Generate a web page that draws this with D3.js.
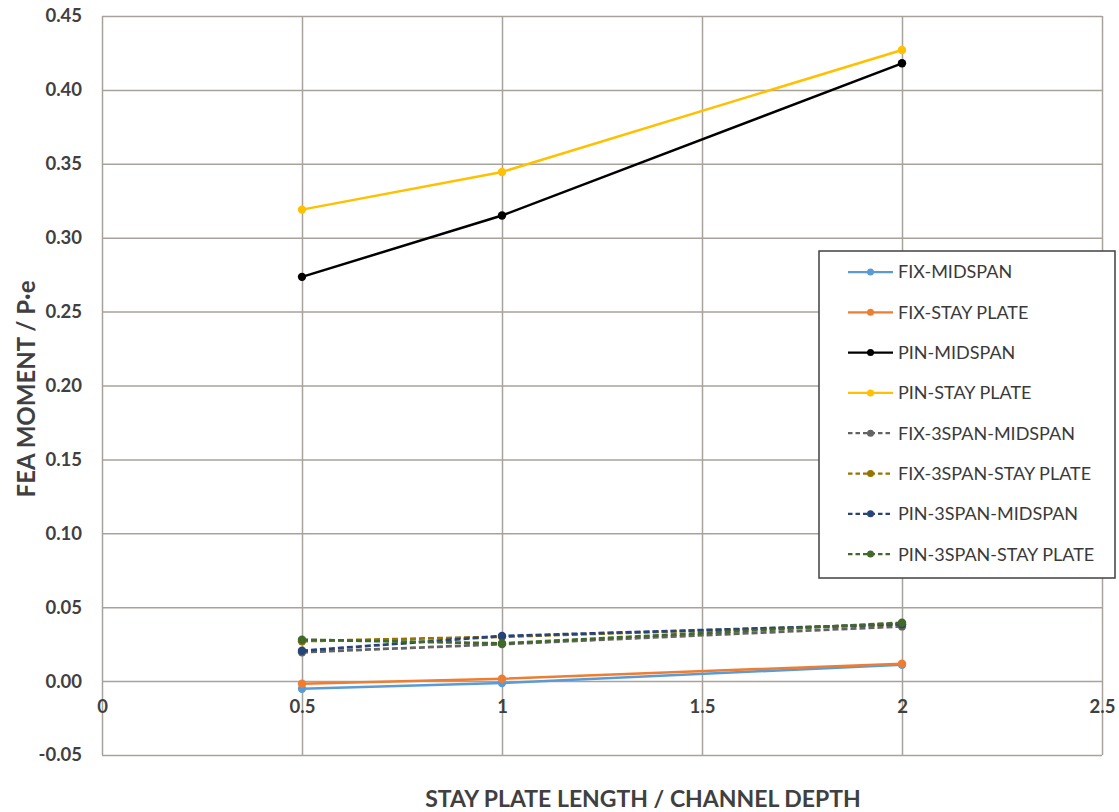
<!DOCTYPE html>
<html>
<head>
<meta charset="utf-8">
<script src="https://cdn.jsdelivr.net/npm/d3@7/dist/d3.min.js"></script>
<style>
  html, body { margin: 0; padding: 0; background: #ffffff; }
  svg { display: block; font-family: Lato, "Open Sans", sans-serif; }
</style>
</head>
<body>
<svg id="chart" width="1119" height="812"></svg>
<script>
// Ratio of stay plate length to channel depth (x values shared by all series)
const ratios = [0.5, 1, 2];

// FEA moment normalised by P·e, one array per series
const fixMidspan        = [-0.0052, -0.0013, 0.0110];
const fixStayPlate      = [-0.0018,  0.0016, 0.0118];
const pinMidspan        = [ 0.2735,  0.3150, 0.4180];
const pinStayPlate      = [ 0.3190,  0.3445, 0.4270];
const fix3SpanMidspan   = [ 0.0195,  0.0250, 0.0370];
const fix3SpanStayPlate = [ 0.0270,  0.0300, 0.0385];
const pin3SpanMidspan   = [ 0.0205,  0.0305, 0.0385];
const pin3SpanStayPlate = [ 0.0280,  0.0255, 0.0395];

const seriesNames = [
  "FIX-MIDSPAN", "FIX-STAY PLATE", "PIN-MIDSPAN", "PIN-STAY PLATE",
  "FIX-3SPAN-MIDSPAN", "FIX-3SPAN-STAY PLATE", "PIN-3SPAN-MIDSPAN", "PIN-3SPAN-STAY PLATE"
];
const seriesValues = [
  fixMidspan, fixStayPlate, pinMidspan, pinStayPlate,
  fix3SpanMidspan, fix3SpanStayPlate, pin3SpanMidspan, pin3SpanStayPlate
];
const seriesColors = [
  "#5b9bd5", "#ed7d31", "#000000", "#ffc000",
  "#636363", "#997300", "#264478", "#43682b"
];
const seriesDashed = [false, false, false, false, true, true, true, true];

// Axis ticks and labels
const xTicks = [0, 0.5, 1, 1.5, 2, 2.5];
const xTickLabels = ["0", "0.5", "1", "1.5", "2", "2.5"];
const yTicks = [-0.05, 0, 0.05, 0.10, 0.15, 0.20, 0.25, 0.30, 0.35, 0.40, 0.45];
const xTitle = "STAY PLATE LENGTH / CHANNEL DEPTH";
const yTitle = "FEA MOMENT / P\u00B7e";

const svg = d3.select("#chart");
const plot = { left: 102, right: 1102, top: 16, bottom: 755 };
const textColor = "#404040";
const gridColor = "#a8a29c";

const x = d3.scaleLinear().domain([0, 2.5]).range([plot.left, plot.right]);
const y = d3.scaleLinear().domain([-0.05, 0.45]).range([plot.bottom, plot.top]);

// Gridlines
svg.append("g")
  .attr("transform", `translate(${plot.left},0)`)
  .call(d3.axisLeft(y).tickValues(yTicks).tickSize(-(plot.right - plot.left)).tickFormat(""))
  .call(g => g.select(".domain").remove())
  .call(g => g.selectAll("line").attr("stroke", gridColor).attr("stroke-width", 1.5));

svg.append("g")
  .attr("transform", `translate(0,${plot.bottom})`)
  .call(d3.axisBottom(x).tickValues(xTicks).tickSize(-(plot.bottom - plot.top)).tickFormat(""))
  .call(g => g.select(".domain").remove())
  .call(g => g.selectAll("line").attr("stroke", gridColor).attr("stroke-width", 1.5));

// Y tick labels
svg.append("g")
  .attr("transform", `translate(${plot.left},0)`)
  .call(d3.axisLeft(y).tickValues(yTicks).tickSize(0).tickPadding(20).tickFormat(d => d.toFixed(2)))
  .call(g => g.select(".domain").remove())
  .call(g => g.selectAll("text")
    .attr("fill", textColor).attr("font-size", 18.5).attr("font-weight", 700)
    .attr("font-family", "Lato, sans-serif"));

// X tick labels sit just under the zero line
svg.append("g")
  .attr("transform", `translate(0,${y(0)})`)
  .call(d3.axisBottom(x).tickValues(xTicks).tickSize(0).tickPadding(19)
    .tickFormat((d, i) => xTickLabels[i]))
  .call(g => g.select(".domain").remove())
  .call(g => g.selectAll("text")
    .attr("fill", textColor).attr("font-size", 18.5).attr("font-weight", 700)
    .attr("font-family", "Lato, sans-serif"));

// Axis titles
svg.append("text")
  .attr("x", 643).attr("y", 807)
  .attr("text-anchor", "middle")
  .attr("fill", textColor).attr("font-size", 23).attr("font-weight", 700)
  .text(xTitle);

svg.append("text")
  .attr("transform", `translate(35,${389}) rotate(-90)`)
  .attr("text-anchor", "middle")
  .attr("fill", textColor).attr("font-size", 24).attr("font-weight", 700)
  .text(yTitle);

// Series lines and markers
const line = d3.line().x(d => x(d[0])).y(d => y(d[1]));
seriesValues.forEach((vals, i) => {
  const pts = ratios.map((r, j) => [r, vals[j]]);
  const g = svg.append("g").attr("class", "series");
  g.append("path")
    .datum(pts)
    .attr("d", line)
    .attr("fill", "none")
    .attr("stroke", seriesColors[i])
    .attr("stroke-width", seriesDashed[i] ? 2.75 : 2.5)
    .attr("stroke-dasharray", seriesDashed[i] ? "6,3" : null)
    .attr("stroke-linejoin", "round");
  g.selectAll("circle")
    .data(pts)
    .join("circle")
    .attr("cx", d => x(d[0]))
    .attr("cy", d => y(d[1]))
    .attr("r", 4.2)
    .attr("fill", seriesColors[i]);
});

// Legend
const legend = svg.append("g");
legend.append("rect")
  .attr("x", 819).attr("y", 251).attr("width", 296).attr("height", 327)
  .attr("fill", "#ffffff").attr("stroke", "#404040").attr("stroke-width", 1.5);

seriesNames.forEach((name, i) => {
  const cy = 272 + i * 40.3;
  const item = legend.append("g");
  item.append("line")
    .attr("x1", 848).attr("x2", 893).attr("y1", cy).attr("y2", cy)
    .attr("stroke", seriesColors[i])
    .attr("stroke-width", 2.25)
    .attr("stroke-dasharray", seriesDashed[i] ? "4.5,3" : null);
  item.append("circle")
    .attr("cx", 870.5).attr("cy", cy).attr("r", 3.5)
    .attr("fill", seriesColors[i]);
  item.append("text")
    .attr("x", 898).attr("y", cy).attr("dy", "0.36em")
    .attr("fill", "#3a3a3a").attr("font-size", 18).attr("font-weight", 400)
    .text(name);
});
</script>
</body>
</html>
